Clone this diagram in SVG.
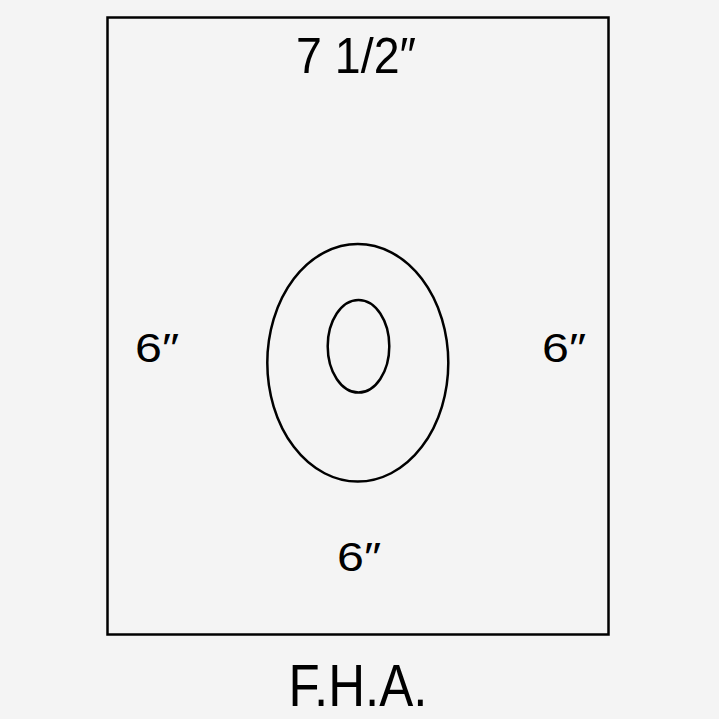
<svg xmlns="http://www.w3.org/2000/svg" width="719" height="719" viewBox="0 0 719 719">
<style>
.ln{fill:none;stroke:#000;stroke-width:2.5}
.t{font-family:"Liberation Sans",Arial,sans-serif;fill:#000;text-anchor:middle}
</style>
<rect x="0" y="0" width="719" height="719" fill="#f4f4f4"/>
<g id="sheet">
<rect class="ln" x="107.5" y="17.5" width="501" height="617"/>
</g>
<g id="outer-ring">
<ellipse class="ln" cx="357.8" cy="362.8" rx="90.5" ry="118.8"/>
</g>
<g id="inner-hole">
<ellipse class="ln" cx="358.5" cy="346.3" rx="30.8" ry="46.3"/>
</g>
<g id="labels">
<text class="t" x="356" y="73" font-size="50" textLength="120" lengthAdjust="spacingAndGlyphs">7 1/2″</text>
<text class="t" x="157" y="362" font-size="40" textLength="44" lengthAdjust="spacingAndGlyphs">6″</text>
<text class="t" x="564" y="362" font-size="40" textLength="44" lengthAdjust="spacingAndGlyphs">6″</text>
<text class="t" x="359" y="571" font-size="40" textLength="44" lengthAdjust="spacingAndGlyphs">6″</text>
<text class="t" x="358" y="706" font-size="60" textLength="139" lengthAdjust="spacingAndGlyphs">F.H.A.</text>
</g>
</svg>
